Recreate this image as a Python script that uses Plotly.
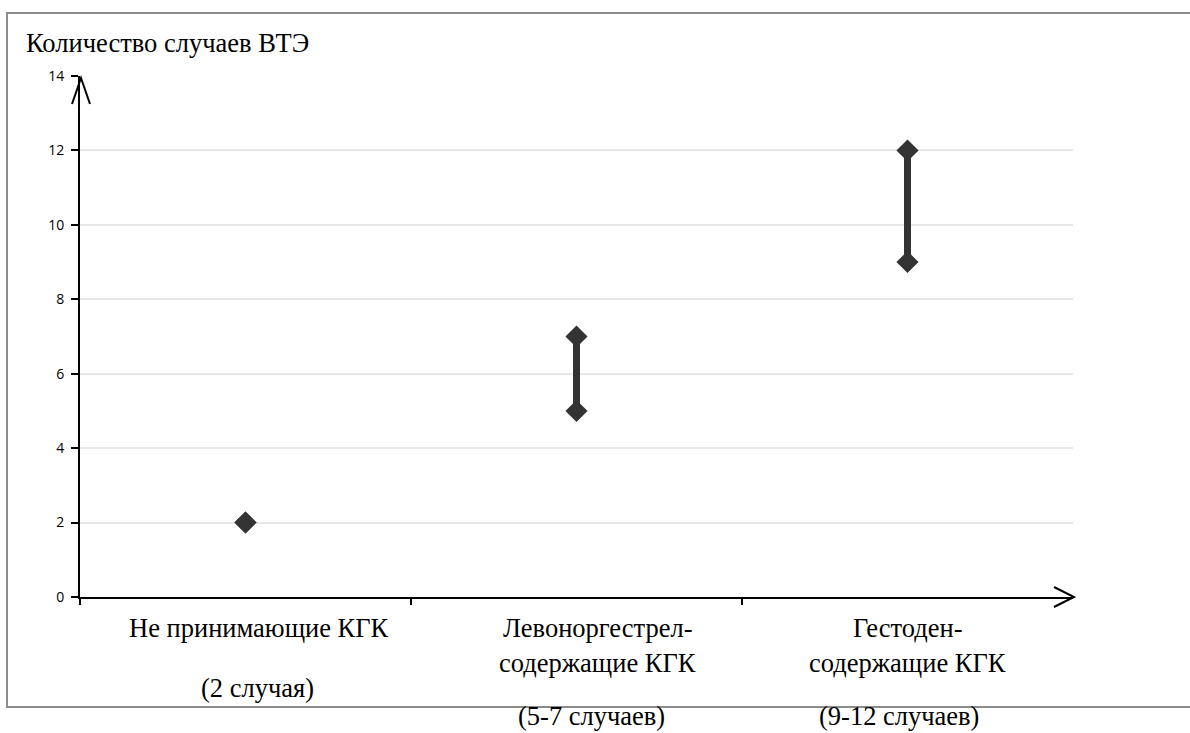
import plotly.graph_objects as go

# ---- data ----
categories = ["Не принимающие КГК", "Левоноргестрел-<br>содержащие КГК", "Гестоден-<br>содержащие КГК"]
cases_text = ["(2 случая)", "(5-7 случаев)", "(9-12 случаев)"]
vte_low = [2, 5, 9]
vte_high = [2, 7, 12]
y_ticks = [0, 2, 4, 6, 8, 10, 12, 14]
y_title = "Количество случаев ВТЭ"

# ---- geometry ----
W, H = 1190, 733
L, R, T, B = 80, 117, 76, 136
PW, PH = W - L - R, H - T - B
X0, Y0 = L, H - B  # pixel origin of plot area (bottom-left)

def px_x(p):
    return (p - X0) / PW

def px_y(p):
    return (Y0 - p) / PH

SERIF = "Liberation Serif, Times New Roman, serif"
INK = "#333333"
FS = 26.5

fig = go.Figure()
for i, (lo, hi) in enumerate(zip(vte_low, vte_high)):
    fig.add_trace(go.Scatter(
        x=[i, i], y=[lo, hi], mode="lines+markers",
        line=dict(color=INK, width=7),
        marker=dict(symbol="diamond", size=17, color=INK),
        showlegend=False, hoverinfo="y",
    ))

fig.update_layout(
    width=W, height=H,
    margin=dict(l=L, r=R, t=T, b=B),
    paper_bgcolor="white", plot_bgcolor="white",
    showlegend=False,
    xaxis=dict(
        range=[-0.5, len(categories) - 0.5],
        tickvals=[i - 0.5 for i in range(len(categories))],
        ticktext=["" for _ in categories],
        ticks="outside", ticklen=6, tickwidth=2, tickcolor="black",
        showgrid=False, zeroline=False,
        showline=True, linecolor="black", linewidth=2,
    ),
    yaxis=dict(
        range=[0, 14],
        tickvals=y_ticks,
        ticks="outside", ticklen=7, tickwidth=2, tickcolor="black",
        ticklabelstandoff=4,
        tickfont=dict(family="Open Sans, sans-serif", size=14, color="black"),
        showgrid=True, gridcolor="#e8e8e8", gridwidth=2,
        zeroline=False,
        showline=True, linecolor="black", linewidth=2,
    ),
)

# outer frame
fig.add_shape(type="rect", xref="paper", yref="paper",
              x0=px_x(7), x1=px_x(1200), y0=px_y(707), y1=px_y(13),
              line=dict(color="#8c8c8c", width=2), layer="below")

# axis arrowheads (open chevrons)
fig.add_shape(type="path", xref="paper", yref="paper",
              path=f"M {px_x(72)} {px_y(104)} L {px_x(81)} {px_y(78)} L {px_x(90)} {px_y(104)}",
              line=dict(color="black", width=2))
fig.add_shape(type="path", xref="paper", yref="paper",
              path=f"M {px_x(1054)} {px_y(587)} L {px_x(1074)} {px_y(597)} L {px_x(1054)} {px_y(607)}",
              line=dict(color="black", width=2))

# y title
fig.add_annotation(text=y_title, xref="paper", yref="paper",
                   x=px_x(24), y=px_y(43), xanchor="left", yanchor="middle",
                   showarrow=False, font=dict(family=SERIF, size=FS, color="black"))

# category labels
label_shift = [13, 21, 0]
cases_pos = [(12, 688), (15, 716), (-9, 716)]
for i, cat in enumerate(categories):
    lines = cat.split("<br>")
    for k, line in enumerate(lines):
        fig.add_annotation(text=line, xref="x", yref="paper", x=i, xshift=label_shift[i],
                           y=px_y(628 + 35 * k), xanchor="center", yanchor="middle",
                           showarrow=False, font=dict(family=SERIF, size=FS, color="black"))
    dx, ypx = cases_pos[i]
    fig.add_annotation(text=cases_text[i], xref="x", yref="paper", x=i, xshift=dx,
                       y=px_y(ypx), xanchor="center", yanchor="middle",
                       showarrow=False, font=dict(family=SERIF, size=FS, color="black"))

fig.write_html("out.html", config={"displayModeBar": False},
               post_script="document.body.style.margin='0';document.body.style.overflow='hidden';")
